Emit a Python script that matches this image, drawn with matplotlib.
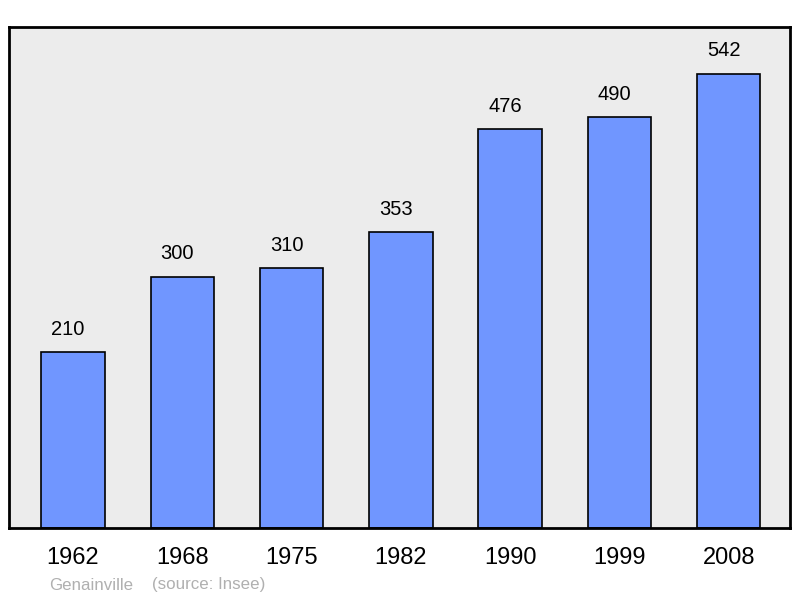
import matplotlib.pyplot as plt

plt.rcParams['font.family'] = ['Liberation Sans', 'DejaVu Sans']

years = ["1962", "1968", "1975", "1982", "1990", "1999", "2008"]
population = [210, 300, 310, 353, 476, 490, 542]

fig = plt.figure(figsize=(8, 5.98), dpi=100)
ax = fig.add_axes([9 / 800, 70 / 598, 781 / 800, 501 / 598])
ax.set_facecolor("#ececec")

x = range(len(years))
ax.bar(x, population, width=0.58, color="#7096ff", edgecolor="black",
       linewidth=1.2, zorder=2)
for xi, v in zip(x, population):
    ax.annotate(str(v), (xi, v), xytext=(-3.5, 16.5), textcoords="offset points",
                ha="center", va="center", fontsize=14.5)

ax.set_xlim(-0.585, 6.56)
ax.set_ylim(0, 598)
ax.set_xticks(list(x))
ax.set_xticklabels(years, fontsize=17)
ax.tick_params(axis="x", length=0, pad=13.5)
ax.set_yticks([])
for s in ax.spines.values():
    s.set_linewidth(2)

fig.text(49 / 800, 1 - 585 / 598, "Genainville", color="#b0b0b0",
         fontsize=12.2, va="center")
fig.text(152 / 800, 1 - 585 / 598, "(source: Insee)", color="#b0b0b0",
         fontsize=12.2, va="center")

fig.savefig("out.png", dpi=100)
